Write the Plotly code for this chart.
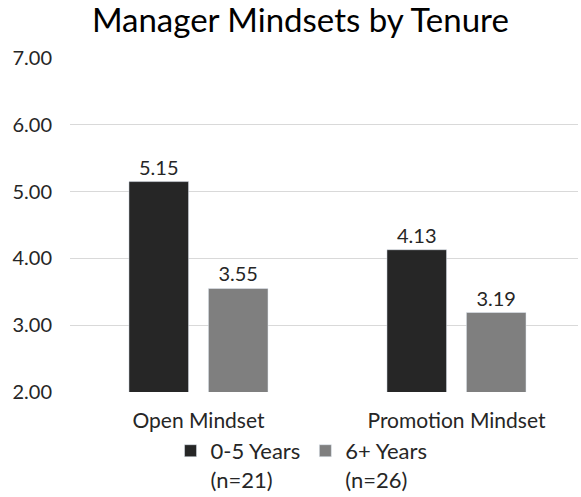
import plotly.graph_objects as go

categories = ["Open Mindset", "Promotion Mindset"]
series_names = ["0-5 Years<br>(n=21)", "6+ Years<br>(n=26)"]
values_0_5 = [5.15, 4.13]
values_6plus = [3.55, 3.19]
colors = ["#262626", "#7f7f7f"]
tick_vals = [2, 3, 4, 5, 6, 7]

FONT = "Lato, Roboto, sans-serif"

fig = go.Figure()
for name, vals, col in zip(series_names, [values_0_5, values_6plus], colors):
    fig.add_trace(go.Bar(
        x=categories, y=vals, name=name, marker_color=col,
        text=[f"{v:.2f}" for v in vals], textposition="outside",
        textfont=dict(size=20, color="#262626", family=FONT),
        cliponaxis=False,
    ))

fig.update_layout(
    width=581, height=497,
    margin=dict(l=70, r=3, t=58, b=105),
    paper_bgcolor="white", plot_bgcolor="white",
    font=dict(family=FONT, color="#262626"),
    title=dict(text="Manager Mindsets by Tenure", x=0.517, xanchor="center",
               xref="container", yref="container",
               y=0.958, yanchor="middle", font=dict(size=33, color="#000000", family=FONT)),
    barmode="group", bargap=0.384, bargroupgap=0.25,
    showlegend=True,
    legend=dict(orientation="h", xref="container", yref="container",
                x=0.519, xanchor="center", y=0.135, yanchor="top",
                font=dict(size=22, color="#262626", family=FONT), valign="top",
                itemwidth=30, traceorder="normal"),
)
fig.update_xaxes(range=[-0.498, 1.471], showgrid=False, showline=False, ticks="",
                 automargin=False, ticklabelstandoff=14,
                 tickfont=dict(size=21, color="#262626", family=FONT))
fig.update_yaxes(range=[2, 7], tickvals=tick_vals, tickformat=".2f", showgrid=True,
                 gridcolor="#d9d9d9", gridwidth=1, zeroline=False, showline=False,
                 automargin=False, ticks="", ticklabelstandoff=17,
                 tickfont=dict(size=20, color="#262626", family=FONT))

fig.write_html("out.html", config={"displayModeBar": False},
               post_script="document.body.style.margin='0';document.body.style.padding='0';")
